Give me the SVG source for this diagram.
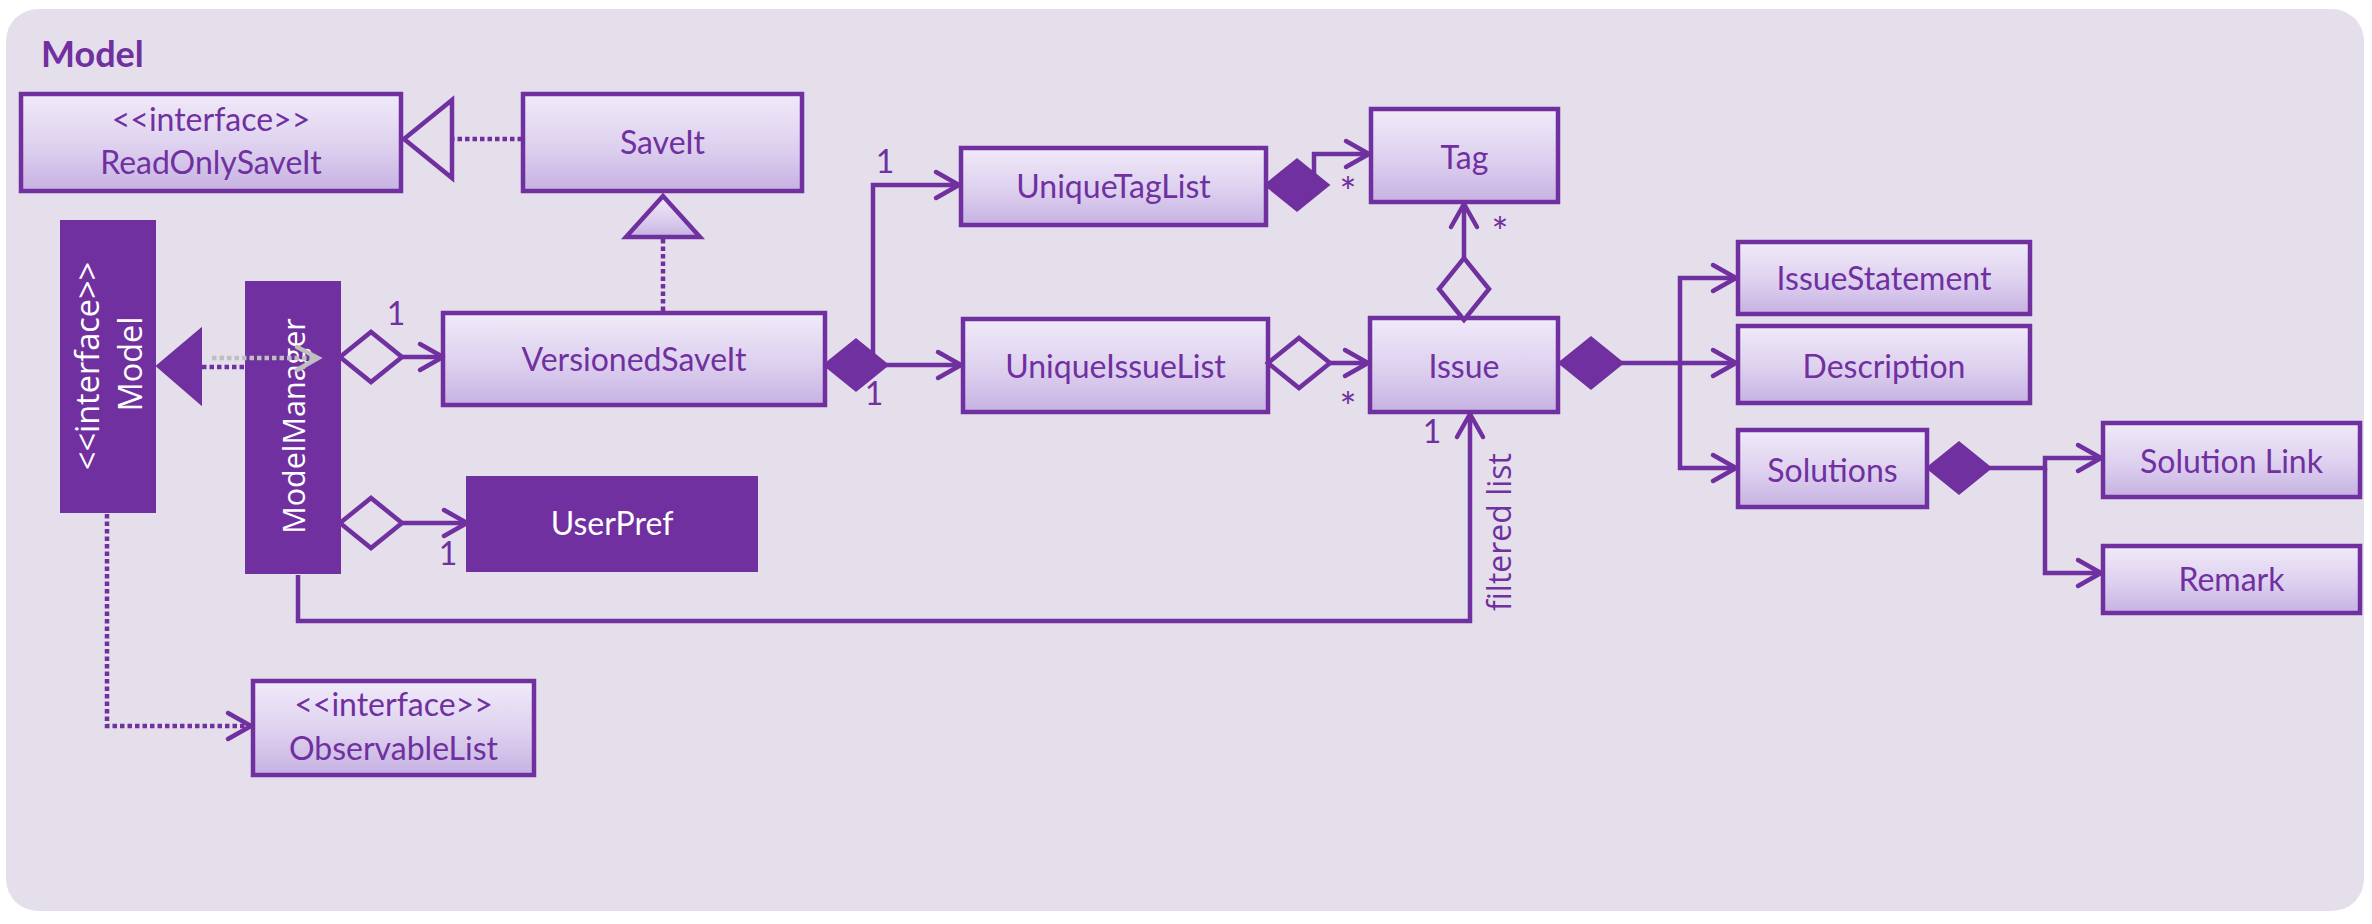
<svg xmlns="http://www.w3.org/2000/svg" width="2372" height="924" viewBox="0 0 2372 924">
<defs>
<linearGradient id="g" x1="0" y1="0" x2="0" y2="1">
<stop offset="0" stop-color="#F0EAF8"/>
<stop offset="0.55" stop-color="#DDD0EF"/>
<stop offset="1" stop-color="#C6B2E2"/>
</linearGradient>
<marker id="arr" viewBox="-30 -18 34 36" refX="0" refY="0" markerWidth="34" markerHeight="36" markerUnits="userSpaceOnUse" orient="auto">
<path d="M-23,-13 L0,0 L-23,13" fill="none" stroke="#7030A0" stroke-width="4.5" stroke-linecap="round" stroke-linejoin="round"/>
</marker>
<marker id="dia" viewBox="-4 -29 70 58" refX="0" refY="0" markerWidth="70" markerHeight="58" markerUnits="userSpaceOnUse" orient="auto">
<path d="M0,0 L31,-25 L62,0 L31,25 Z" fill="#E5DFEC" stroke="#7030A0" stroke-width="4.5" stroke-linejoin="miter"/>
</marker>
<marker id="cdia" viewBox="-4 -29 70 58" refX="0" refY="0" markerWidth="70" markerHeight="58" markerUnits="userSpaceOnUse" orient="auto">
<path d="M0,0 L31,-25 L62,0 L31,25 Z" fill="#7030A0" stroke="#7030A0" stroke-width="3"/>
</marker>
</defs>
<style>
.box{fill:url(#g);stroke:#7030A0;stroke-width:4.5}
.dark{fill:#7030A0;stroke:#7030A0;stroke-width:2}
.t{font-family:Lato,"Liberation Sans",sans-serif;font-size:32px;fill:#7030A0;text-anchor:middle}
.w{font-family:"Open Sans","DejaVu Sans",sans-serif;font-size:30.5px;fill:#FFFFFF;text-anchor:middle}
.wm{font-family:"Open Sans","DejaVu Sans",sans-serif;font-size:32.5px;fill:#FFFFFF;text-anchor:middle}
.wl{font-family:Lato,"Liberation Sans",sans-serif;font-size:32px;fill:#FFFFFF;text-anchor:middle}
.lbl{font-family:Lato,"Liberation Sans",sans-serif;font-size:32px;fill:#7030A0;text-anchor:middle}
.ast{font-family:Lato,"Liberation Sans",sans-serif;font-size:40px;fill:#7030A0;text-anchor:middle}
.c{fill:none;stroke:#7030A0;stroke-width:4.5}
.dot{stroke-dasharray:4.5 3}
</style>
<rect x="6" y="9" width="2358" height="902" rx="32" fill="#E5DFEC"/>
<text x="41" y="67" font-family="Lato, 'Liberation Sans', sans-serif" font-size="36" font-weight="700" fill="#7030A0">Model</text>

<g id="ReadOnlySaveIt">
<rect class="box" x="21" y="94" width="380" height="97"/>
<text class="t" x="211" y="131">&lt;&lt;interface&gt;&gt;</text>
<text class="t" x="211" y="174">ReadOnlySaveIt</text>
</g>
<g id="SaveIt">
<rect class="box" x="523" y="94" width="279" height="97"/>
<text class="t" x="662.5" y="154">SaveIt</text>
</g>
<g id="Model">
<rect class="dark" x="61" y="221" width="94" height="291"/>
<text class="wm" transform="translate(99,366) rotate(-90)">&lt;&lt;interface&gt;&gt;</text>
<text class="wm" transform="translate(142,364) rotate(-90)">Model</text>
</g>
<g id="ModelManager">
<rect class="dark" x="246" y="282" width="94" height="291"/>
<text class="w" transform="translate(305,426) rotate(-90)">ModelManager</text>
</g>
<g id="VersionedSaveIt">
<rect class="box" x="443" y="313" width="382" height="92"/>
<text class="t" x="634" y="371">VersionedSaveIt</text>
</g>
<g id="UserPref">
<rect class="dark" x="467" y="477" width="290" height="94"/>
<text class="wl" x="612" y="535">UserPref</text>
</g>
<g id="UniqueTagList">
<rect class="box" x="961" y="148" width="305" height="77"/>
<text class="t" x="1113.5" y="198">UniqueTagList</text>
</g>
<g id="UniqueIssueList">
<rect class="box" x="963" y="319" width="305" height="93"/>
<text class="t" x="1115.5" y="378">UniqueIssueList</text>
</g>
<g id="Tag">
<rect class="box" x="1371" y="109" width="187" height="93"/>
<text class="t" x="1464.5" y="169">Tag</text>
</g>
<g id="Issue">
<rect class="box" x="1370" y="318" width="188" height="94"/>
<text class="t" x="1464" y="378">Issue</text>
</g>
<g id="IssueStatement">
<rect class="box" x="1738" y="242" width="292" height="72"/>
<text class="t" x="1884" y="290">IssueStatement</text>
</g>
<g id="Description">
<rect class="box" x="1738" y="326" width="292" height="77"/>
<text class="t" x="1884" y="378">Description</text>
</g>
<g id="Solutions">
<rect class="box" x="1738" y="430" width="189" height="77"/>
<text class="t" x="1832.5" y="482">Solutions</text>
</g>
<g id="SolutionLink">
<rect class="box" x="2103" y="423" width="257" height="74"/>
<text class="t" x="2231.5" y="473">Solution Link</text>
</g>
<g id="Remark">
<rect class="box" x="2103" y="546" width="257" height="67"/>
<text class="t" x="2231.5" y="591">Remark</text>
</g>
<g id="ObservableList">
<rect class="box" x="253" y="681" width="281" height="94"/>
<text class="t" x="393.5" y="716">&lt;&lt;interface&gt;&gt;</text>
<text class="t" x="393.5" y="760">ObservableList</text>
</g>

<g id="connectors">
<!-- SaveIt realizes ReadOnlySaveIt -->
<path class="c dot" d="M522,139 L452,139"/>
<polygon points="404,139 452,100 452,178" fill="#E5DFEC" stroke="#7030A0" stroke-width="4.5"/>
<!-- VersionedSaveIt realizes SaveIt -->
<path class="c dot" d="M663,311 L663,237"/>
<polygon points="663,196 626,237 700,237" fill="url(#g)" stroke="#7030A0" stroke-width="4.5"/>
<!-- ModelManager realizes Model -->
<path class="c dot" d="M244,367 L200,367"/>
<polygon points="157,366 201,329 201,404" fill="#7030A0" stroke="#7030A0" stroke-width="2"/>
<path d="M212,358 L316,358" fill="none" stroke="#BFBFBF" stroke-width="4.5" stroke-dasharray="4.5 3"/>
<path d="M297,347 L318,358 L297,370" fill="none" stroke="#BFBFBF" stroke-width="4.5" stroke-linecap="round"/>
<!-- ModelManager to VersionedSaveIt -->
<path class="c" d="M340,357 L443,357" marker-start="url(#dia)" marker-end="url(#arr)"/>
<text class="lbl" x="396" y="325">1</text>
<!-- ModelManager to UserPref -->
<path class="c" d="M340,523 L467,523" marker-start="url(#dia)" marker-end="url(#arr)"/>
<text class="lbl" x="448" y="565">1</text>
<!-- ModelManager to Issue (filtered list) -->
<path class="c" d="M298,575 L298,621 L1470,621 L1470,414" marker-end="url(#arr)"/>
<text class="lbl" x="1432" y="443">1</text>
<text transform="translate(1511,532) rotate(-90)" font-family="'Open Sans', 'DejaVu Sans', sans-serif" font-size="32" fill="#7030A0" text-anchor="middle">filtered list</text>
<!-- Model to ObservableList -->
<path class="c dot" d="M107,514 L107,726 L251,726" marker-end="url(#arr)"/>
<!-- VersionedSaveIt to UniqueIssueList / UniqueTagList -->
<path class="c" d="M825,365 L961,365" marker-start="url(#cdia)" marker-end="url(#arr)"/>
<path class="c" d="M873,365 L873,185 L959,185" marker-end="url(#arr)"/>
<text class="lbl" x="885" y="173">1</text>
<text class="lbl" x="874" y="405">1</text>
<!-- UniqueTagList to Tag -->
<path class="c" d="M1266,185 L1314,185 L1314,154 L1369,154" marker-start="url(#cdia)" marker-end="url(#arr)"/>
<text class="ast" x="1348" y="207">*</text>
<!-- Issue to Tag -->
<path class="c" d="M1464,320 L1464,204" marker-start="url(#dia)" marker-end="url(#arr)"/>
<text class="ast" x="1500" y="247">*</text>
<!-- UniqueIssueList to Issue -->
<path class="c" d="M1268,363 L1368,363" marker-start="url(#dia)" marker-end="url(#arr)"/>
<text class="ast" x="1348" y="422">*</text>
<!-- Issue to IssueStatement, Description, Solutions -->
<path class="c" d="M1560,363 L1680,363 L1680,278 L1736,278" marker-start="url(#cdia)" marker-end="url(#arr)"/>
<path class="c" d="M1680,363 L1736,363" marker-end="url(#arr)"/>
<path class="c" d="M1680,363 L1680,468 L1736,468" marker-end="url(#arr)"/>
<!-- Solutions to Solution Link, Remark -->
<path class="c" d="M1928,468 L2045,468 L2045,458 L2101,458" marker-start="url(#cdia)" marker-end="url(#arr)"/>
<path class="c" d="M2045,468 L2045,573 L2101,573" marker-end="url(#arr)"/>
</g>
</svg>
